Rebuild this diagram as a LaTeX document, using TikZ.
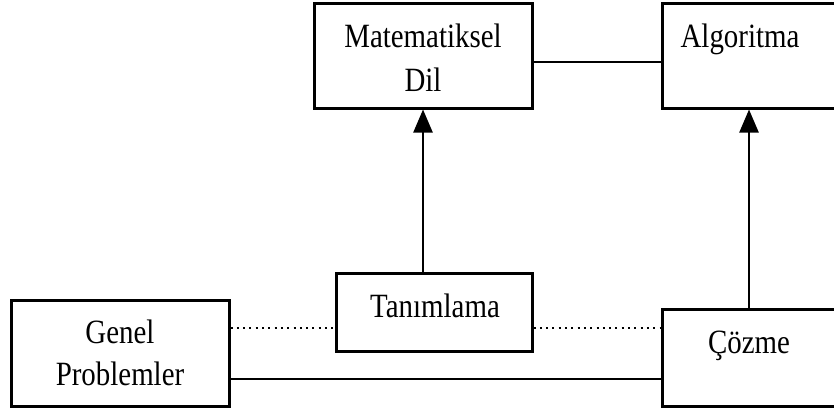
\documentclass[tikz,border=0pt]{standalone}
\usepackage{fontspec}
\setmainfont{Liberation Serif}
\usetikzlibrary{arrows.meta}
\newcommand{\nx}[1]{\scalebox{0.85}[1]{#1}}
\tikzset{
  box/.style={draw=black, line width=3pt, rectangle, inner sep=0pt},
  lbl/.style={anchor=base, inner sep=0pt, font=\fontsize{34}{42}\selectfont},
  link/.style={draw=black, line width=2.3pt},
  dots/.style={draw=black, line width=2pt, dash pattern=on 2pt off 4.3pt},
  arr/.style={link, -{Triangle[length=23pt,width=19pt]}}
}
\begin{document}
\begin{tikzpicture}[x=1pt, y=-1pt]
  \clip (0,0) rectangle (834,412);
  \fill[white] (0,0) rectangle (834,412);

  % boxes
  \node[box, minimum width=218pt, minimum height=104pt] (mat) at (423,56) {};
  \node[box, minimum width=174pt, minimum height=104pt] (alg) at (749,56) {};
  \node[box, minimum width=196pt, minimum height=78.5pt] (tan) at (434,312.5) {};
  \node[box, minimum width=218pt, minimum height=106.5pt] (gen) at (120,353.3) {};
  \node[box, minimum width=174pt, minimum height=97pt] (coz) at (749,357.5) {};

  % labels
  \node[lbl] (matA) at (423,48) {\nx{Matematiksel}};
  \node[lbl] (matB) at (423,91) {\nx{Dil}};
  \node[lbl] (algA) at (740,48) {\nx{Algoritma}};
  \node[lbl] (tanA) at (435,317) {\nx{Tanımlama}};
  \node[lbl] (genA) at (120,343) {\nx{Genel}};
  \node[lbl] (genB) at (120,385) {\nx{Problemler}};
  \node[lbl] (cozA) at (749,353) {\nx{Çözme}};

  % connectors
  \draw[link] ([yshift=-6pt]mat.east) -- ([yshift=-6pt]mat.east -| alg.west);
  \draw[arr] (tan.north -| mat.south) -- (mat.south);
  \draw[arr] (coz.north) -- (alg.south);
  \draw[dots] ([yshift=-15.7pt]tan.west -| gen.east) -- ([yshift=-15.7pt]tan.west);
  \draw[dots] ([yshift=-15.7pt]tan.east) -- ([yshift=-15.7pt]tan.east -| coz.west);
  \draw[link] ([yshift=-25.7pt]gen.east) -- ([yshift=-25.7pt]gen.east -| coz.west);
\end{tikzpicture}
\end{document}
